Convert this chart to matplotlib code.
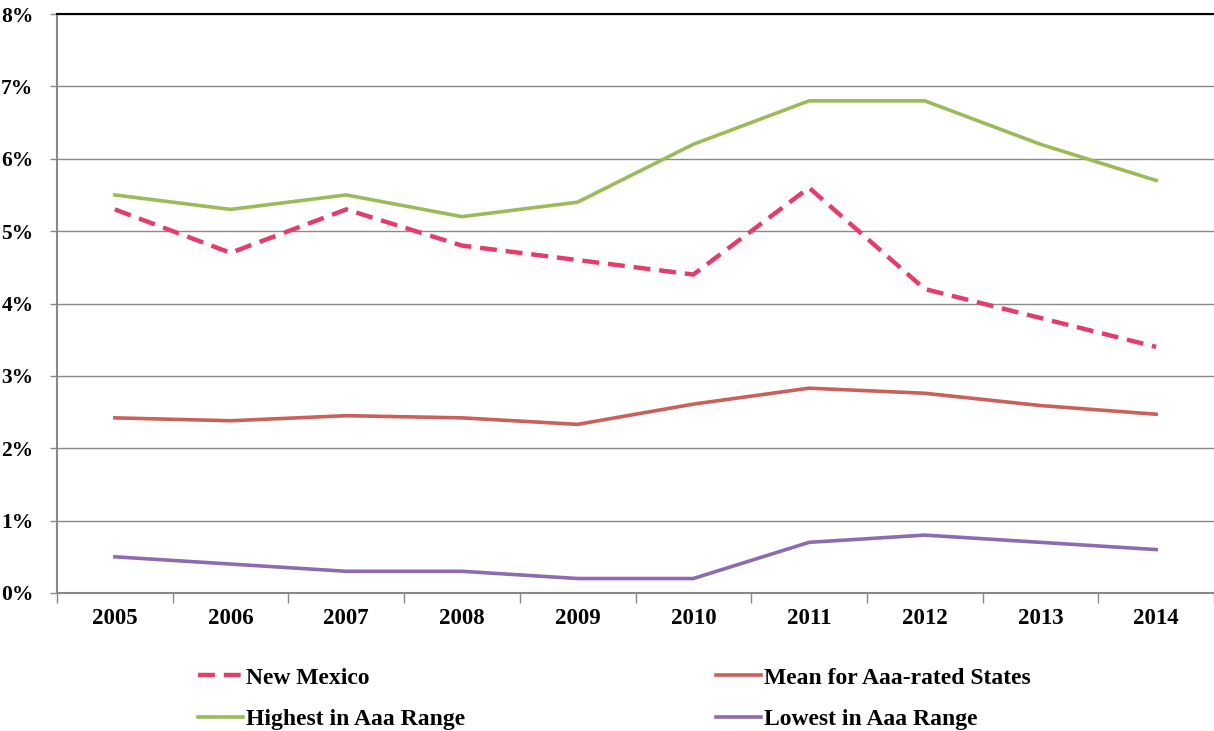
import numpy as np
import matplotlib.pyplot as plt

years = ["2005", "2006", "2007", "2008", "2009", "2010", "2011", "2012", "2013", "2014"]
new_mexico = [5.3, 4.7, 5.3, 4.8, 4.6, 4.4, 5.6, 4.2, 3.8, 3.4]
mean_aaa = [2.42, 2.38, 2.45, 2.42, 2.33, 2.61, 2.83, 2.76, 2.59, 2.47]
highest_aaa = [5.5, 5.3, 5.5, 5.2, 5.4, 6.2, 6.8, 6.8, 6.2, 5.7]
lowest_aaa = [0.5, 0.4, 0.3, 0.3, 0.2, 0.2, 0.7, 0.8, 0.7, 0.6]

plt.rcParams["font.family"] = "Liberation Serif"
plt.rcParams["font.weight"] = "bold"

fig = plt.figure(figsize=(12.14, 7.31), dpi=100)
ax = fig.add_axes([57/1214, 1-593/731, 1-57/1214, (593-14)/731])

x = np.arange(len(years))
ax.plot(x, new_mexico, color="#E43D6B", lw=3.2, dashes=(3.8, 2), label="New Mexico", zorder=5)
ax.plot(x, mean_aaa, color="#C9605A", lw=2.6, label="Mean for Aaa-rated States", zorder=4)
ax.plot(x, highest_aaa, color="#9BBB59", lw=2.6, label="Highest in Aaa Range", zorder=4)
ax.plot(x, lowest_aaa, color="#8C6BB1", lw=2.6, label="Lowest in Aaa Range", zorder=4)

ax.set_xlim(-0.5, len(years) - 0.5)
ax.set_ylim(0, 8)
ax.set_yticks(range(0, 9))
ax.set_yticklabels([f"{v}%" for v in range(0, 9)], fontsize=15.5, fontweight="bold")
ax.set_xticks(x)
ax.set_xticklabels(years, fontsize=16.5, fontweight="bold")
ax.set_xticks(np.arange(-0.5, len(years), 1), minor=True)
ax.tick_params(axis="x", which="major", length=0, pad=11)
ax.tick_params(axis="x", which="minor", length=7, color="#888888", width=1)
ax.tick_params(axis="y", length=5, color="#888888", width=1, pad=12)

ax.grid(axis="y", color="#8a8a8a", lw=1)
ax.set_axisbelow(True)
ax.spines["right"].set_visible(False)
ax.spines["top"].set_color("black")
ax.spines["top"].set_linewidth(1.5)
ax.spines["left"].set_color("#888888")
ax.spines["left"].set_linewidth(1.5)
ax.spines["bottom"].set_color("#888888")
ax.spines["bottom"].set_linewidth(1.5)

handles, labels = ax.get_legend_handles_labels()
order = [0, 2, 1, 3]
fig.legend([handles[i] for i in order], [labels[i] for i in order],
           loc="upper left", bbox_to_anchor=(198/1214, 1-667/731), ncol=2,
           frameon=False, fontsize=17, handlelength=1.9, handletextpad=0.15,
           columnspacing=10.6, labelspacing=0.85, borderaxespad=0, borderpad=0)

fig.savefig("out.png", dpi=100)
